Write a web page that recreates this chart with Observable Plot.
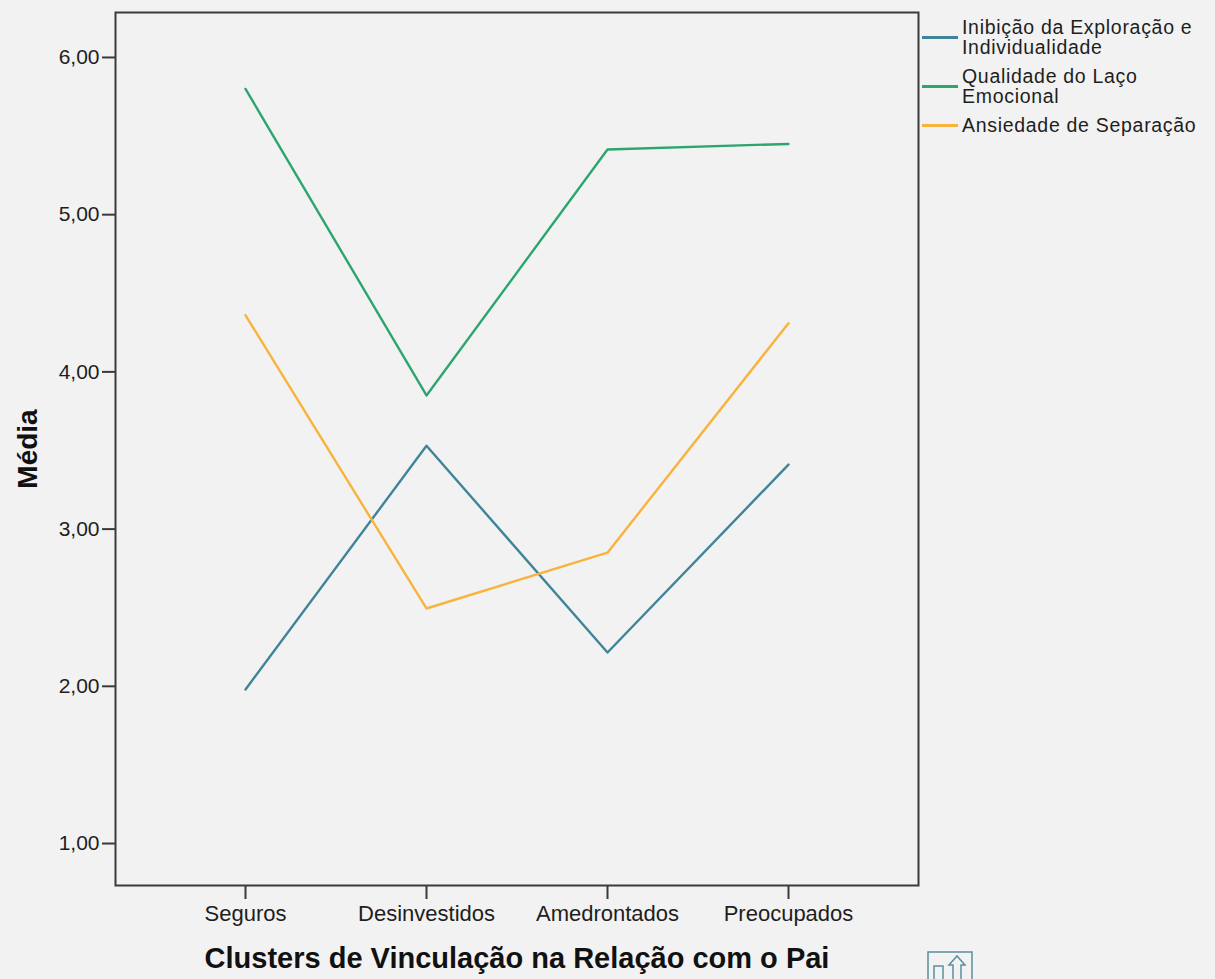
<!DOCTYPE html>
<html>
<head>
<meta charset="utf-8">
<script src="https://cdn.jsdelivr.net/npm/d3@7"></script>
<script src="https://cdn.jsdelivr.net/npm/@observablehq/plot@0.6"></script>
<style>
  html, body { margin: 0; padding: 0; background: #f2f2f2; }
  #wrap { position: relative; width: 1215px; height: 979px; overflow: hidden; font-family: "Liberation Sans", Arial, sans-serif; }
  #legend { position: absolute; left: 922px; top: 17px; font-size: 19.5px; color: #1e1e1e; line-height: 20px; letter-spacing: 0.7px; }
  .item { display: flex; align-items: center; margin-bottom: 9px; }
  .sw { width: 36px; height: 3px; margin-right: 4px; flex: none; }
  #icon { position: absolute; left: 927px; top: 951px; }
</style>
</head>
<body>
<div id="wrap">
  <div id="chart"></div>
  <div id="legend"></div>
  <svg id="icon" width="46" height="30" viewBox="0 0 46 30">
    <rect x="1" y="1" width="44" height="32" fill="none" stroke="#5b8fa0" stroke-width="1.5"/>
    <rect x="7" y="15" width="9" height="16" fill="none" stroke="#5b8fa0" stroke-width="1.5"/>
    <path d="M26 31 V14 H22 L30 5 L38 14 H34 V31" fill="none" stroke="#5b8fa0" stroke-width="1.5"/>
  </svg>
</div>
<script>
const categories = ["Seguros", "Desinvestidos", "Amedrontados", "Preocupados"];
const seriesNames = ["Inibição da Exploração e Individualidade", "Qualidade do Laço Emocional", "Ansiedade de Separação"];
const legendLabels = ["Inibição da Exploração e<br>Individualidade", "Qualidade do Laço<br>Emocional", "Ansiedade de Separação"];
const seriesColors = ["#3f8499", "#2ca56f", "#f8b33d"];
const inibicao = [1.98, 3.53, 2.215, 3.41];
const qualidade = [5.80, 3.85, 5.415, 5.45];
const ansiedade = [4.36, 2.495, 2.85, 4.31];
const yTicks = [1, 2, 3, 4, 5, 6];
const xLabel = "Clusters de Vinculação na Relação com o Pai";
const yLabel = "Média";

const allSeries = [inibicao, qualidade, ansiedade];
const data = [];
allSeries.forEach((vals, s) => vals.forEach((v, i) => data.push({cat: categories[i], value: v, series: seriesNames[s]})));

const ink = "#3a3a3a";
const chart = Plot.plot({
  width: 1215,
  height: 979,
  marginLeft: 115,
  marginRight: 297,
  marginTop: 12,
  marginBottom: 94,
  style: {background: "transparent", fontFamily: "'Liberation Sans', Arial, sans-serif", color: "#1e1e1e"},
  x: {type: "point", domain: categories, padding: 0.718},
  y: {domain: [0.733, 6.286]},
  color: {domain: seriesNames, range: seriesColors},
  marks: [
    Plot.line(data, {x: "cat", y: "value", z: "series", stroke: "series", strokeWidth: 2.4}),
    Plot.frame({stroke: ink, strokeWidth: 2}),
    Plot.axisY({ticks: yTicks, tickFormat: d => d.toFixed(2).replace(".", ","), tickSize: 13, tickPadding: 3, fontSize: 21, stroke: ink, strokeWidth: 2, label: null}),
    Plot.axisX({tickSize: 14, tickPadding: 6, fontSize: 22, stroke: ink, strokeWidth: 2, label: null}),
    Plot.text([xLabel], {frameAnchor: "bottom", textAnchor: "middle", dy: 82, fontSize: 29, fontWeight: "bold", fill: "#111", style: "letter-spacing:1.2px"}),
    Plot.text([yLabel], {frameAnchor: "left", textAnchor: "middle", dx: -87, rotate: -90, fontSize: 28, fontWeight: "bold", fill: "#111", style: "letter-spacing:0.5px"})
  ]
});
document.getElementById("chart").appendChild(chart);

const legend = document.getElementById("legend");
legendLabels.forEach((lab, i) => {
  const item = document.createElement("div");
  item.className = "item";
  item.innerHTML = `<div class="sw" style="background:${seriesColors[i]}"></div><div>${lab}</div>`;
  legend.appendChild(item);
});
</script>
</body>
</html>
